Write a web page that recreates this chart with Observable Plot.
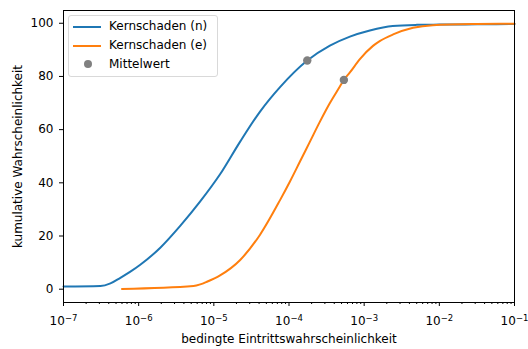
<!DOCTYPE html>
<html>
<head>
<meta charset="utf-8">
<script src="https://cdn.jsdelivr.net/npm/d3@7"></script>
<script src="https://cdn.jsdelivr.net/npm/@observablehq/plot@0.6"></script>
<style>
  body { margin: 0; background: #fff; font-family: "DejaVu Sans", sans-serif; }
  #wrap { position: relative; width: 528px; height: 349px; }
  #legend { position: absolute; left: 68px; top: 15px; width: 150px; height: 62px;
    border: 1px solid #d9d9d9; border-radius: 3px; background: rgba(255,255,255,0.8);
    font-size: 12px; color: #000; box-sizing: border-box; }
  .row { position: absolute; left: 0; height: 19px; width: 100%; }
  .row span { position: absolute; left: 40px; top: 2px; line-height: 14px; white-space: nowrap; }
  .sw { position: absolute; left: 4px; width: 28px; height: 2px; top: 9px; }
  .dot { position: absolute; left: 15px; top: 5px; width: 8px; height: 8px; border-radius: 50%; }
</style>
</head>
<body>
<div id="wrap"></div>
<script>
// Kernschaden (n)
const nX = [1e-7, 3.1e-7, 4.21e-7, 5.71e-7, 7.76e-7, 1.05e-6, 1.94e-6, 3.57e-6, 6.59e-6, 1.21e-5, 2.24e-5, 4.12e-5, 7.6e-5, 1.75e-4, 3.5e-4, 6.46e-4, 1.19e-3, 2.4e-3, 5e-3, 1e-2, 3.2e-2, 1e-1];
const nY = [1.0, 1.2, 2.2, 4.3, 6.6, 9.2, 15.6, 23.8, 33.0, 43.2, 55.5, 66.8, 76, 86, 91.6, 95, 97.3, 99.0, 99.4, 99.5, 99.6, 99.7];
// Kernschaden (e)
const eX = [6.0e-7, 5.37e-6, 6.59e-6, 8.09e-6, 1.21e-5, 2.24e-5, 4.12e-5, 7.6e-5, 1.03e-4, 1.4e-4, 1.9e-4, 2.58e-4, 3.5e-4, 4.75e-4, 5.37e-4, 6.46e-4, 8.77e-4, 1.31e-3, 1.61e-3, 2.43e-3, 4.47e-3, 8.2e-3, 3.16e-2, 1e-1];
const eY = [0.1, 1.2, 1.8, 2.8, 5.2, 11, 20.5, 33.5, 40.5, 48, 55.5, 63, 70, 76.2, 78.7, 81.5, 86.5, 91.5, 93.3, 95.8, 98.3, 99.3, 99.7, 99.8];
// Mittelwert
const meanX = [1.75e-4, 5.37e-4];
const meanY = [86, 78.7];

const seriesNames = ["Kernschaden (n)", "Kernschaden (e)"];
const seriesColors = ["#1f77b4", "#ff7f0e"];
const meanName = "Mittelwert";
const meanColor = "#808080";

const xTicks = [1e-7, 1e-6, 1e-5, 1e-4, 1e-3, 1e-2, 1e-1];
const xTickBase = "10";
const xTickExp = ["−7", "−6", "−5", "−4", "−3", "−2", "−1"];
const yTicks = [0, 20, 40, 60, 80, 100];
const xLabel = "bedingte Eintrittswahrscheinlichkeit";
const yLabel = "kumulative Wahrscheinlichkeit";

const nData = nX.map((x, i) => ({x, y: nY[i]}));
const eData = eX.map((x, i) => ({x, y: eY[i]}));
const meanData = meanX.map((x, i) => ({x, y: meanY[i]}));

const minor = [];
for (let k = -7; k < -1; k++) for (let m = 2; m <= 9; m++) minor.push(m * Math.pow(10, k));

const chart = Plot.plot({
  width: 528, height: 349,
  marginLeft: 63, marginRight: 14, marginTop: 10, marginBottom: 47,
  style: {fontFamily: "DejaVu Sans, sans-serif", fontSize: "12px", color: "#000", background: "#fff"},
  x: {type: "log", domain: [1e-7, 1e-1]},
  y: {domain: [-5, 104.8]},
  marks: [
    Plot.line(nData, {x: "x", y: "y", stroke: seriesColors[0], strokeWidth: 2, curve: "monotone-x"}),
    Plot.line(eData, {x: "x", y: "y", stroke: seriesColors[1], strokeWidth: 2, curve: "monotone-x"}),
    Plot.dot(meanData, {x: "x", y: "y", r: 4.2, fill: meanColor, stroke: null}),
    Plot.frame({stroke: "#000", strokeWidth: 1}),
    Plot.axisX(minor, {tickSize: 2, tickFormat: () => "", label: null}),
    Plot.axisX(xTicks, {tickSize: 4, tickPadding: 10, tickFormat: d => xTickBase,
      fontSize: 12, label: xLabel, labelAnchor: "center", labelArrow: "none", labelOffset: 40}),
    Plot.axisY(yTicks, {tickSize: 4, tickPadding: 6, fontSize: 12,
      label: yLabel, labelAnchor: "center", labelArrow: "none", labelOffset: 50})
  ]
});
// superscript exponents on the major x tick labels (last x tick-label group)
const groups = d3.select(chart).selectAll('g[aria-label="x-axis tick label"]').nodes();
const major = groups[groups.length - 1];
d3.select(major).selectAll("text").each(function(d, i) {
  const t = d3.select(this);
  t.text(xTickBase);
  t.append("tspan").attr("dy", "-0.45em").attr("font-size", "8.5px").text(xTickExp[i]);
});
const wrap = document.getElementById("wrap");
wrap.appendChild(chart);

const legend = document.createElement("div");
legend.id = "legend";
const items = [
  {name: seriesNames[0], color: seriesColors[0], kind: "line"},
  {name: seriesNames[1], color: seriesColors[1], kind: "line"},
  {name: meanName, color: meanColor, kind: "dot"}
];
items.forEach((it, i) => {
  const row = document.createElement("div");
  row.className = "row";
  row.style.top = (1 + i * 19) + "px";
  const sw = document.createElement("div");
  sw.className = it.kind === "line" ? "sw" : "dot";
  sw.style.background = it.color;
  row.appendChild(sw);
  const t = document.createElement("span");
  t.textContent = it.name;
  row.appendChild(t);
  legend.appendChild(row);
});
wrap.appendChild(legend);
</script>
</body>
</html>
